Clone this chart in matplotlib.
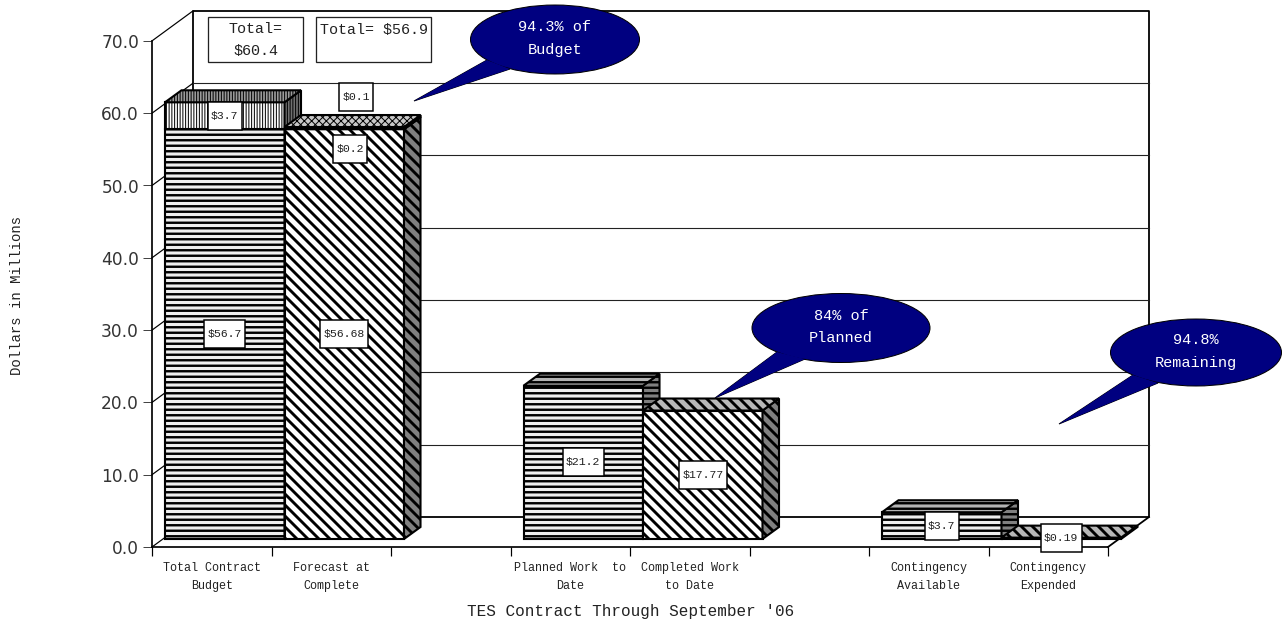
"""
TES contract status: 3-D style stacked columns with callouts
"""
import matplotlib
matplotlib.use("Agg")
import matplotlib.pyplot as plt
from matplotlib.patches import Ellipse, Polygon, Rectangle
from matplotlib.transforms import Affine2D

# column values, $ millions
budget_values = [56.7, 3.7]
forecast_values = [56.68, 0.2, 0.1]
planned_values = [21.2]
completed_values = [17.77]
available_values = [3.7]
expended_values = [0.19]

category_slots = [0.5, 1.5, 3.5, 4.5, 6.5, 7.5]
category_labels = ["Total Contract\nBudget", "Forecast at\nComplete",
                   "Planned Work  to\nDate", "Completed Work\nto Date",
                   "Contingency\nAvailable", "Contingency\nExpended"]
y_ticks = [0, 10, 20, 30, 40, 50, 60, 70]

DPI = 66
WIDTH = 1283
HEIGHT = 620

# size of one category slot and one $ million on screen
SLOT_PX = 119.5
UNIT_PX = 7.23
ORIGIN_X = 152
ORIGIN_Y = 547

# oblique offsets, in data units
WALL_DX = 41 / SLOT_PX
WALL_DY = 30 / UNIT_PX
BAR_X0 = 13 / SLOT_PX
BAR_Y0 = 8 / UNIT_PX
BAR_DX = 16.5 / SLOT_PX
BAR_DY = 12 / UNIT_PX

MONO = "Liberation Mono"
NAVY = "#000080"
TEXT = "#222222"


def size(px):
    return px * 72 / DPI


# styles: hatch, hatch width in px, front / top / side colours
STRIPES = ("--", 2.4, "#efefef", "#b4b4b4", "#808080")
DIAGONAL = ("\\\\", 2.9, "white", "#b8b8b8", "#808080")
COLUMNS = ("||||", 1.0, "white", "#9a9a9a", "#707070")
WOVEN = ("xxx", 1.0, "white", "#c8c8c8", "#808080")


def face(ax, points, color, hatch, hatch_px):
    plt.rcParams["hatch.linewidth"] = size(hatch_px)
    ax.add_patch(Polygon(points, closed=True, facecolor=color, edgecolor="black",
                         hatch=hatch, linewidth=size(2.1), zorder=3))


def draw_segment(ax, slot, bottom, value, style, top_style=None):
    hatch, hatch_px, front, top, side = style
    if top_style is None:
        top_style = style
    x0 = slot + BAR_X0
    x1 = x0 + 1
    y0 = bottom + BAR_Y0
    y1 = y0 + value
    face(ax, [(x0, y0), (x1, y0), (x1, y1), (x0, y1)], front, hatch, hatch_px)
    face(ax, [(x1, y0), (x1 + BAR_DX, y0 + BAR_DY), (x1 + BAR_DX, y1 + BAR_DY), (x1, y1)],
         side, hatch, hatch_px)
    face(ax, [(x0, y1), (x1, y1), (x1 + BAR_DX, y1 + BAR_DY), (x0 + BAR_DX, y1 + BAR_DY)],
         top_style[3], top_style[0], top_style[1])


def value_box(ax, x, y, label, transform=None):
    # white label box, its width follows the text
    if transform is None:
        transform = ax.transData
    if transform is PIXELS:
        sx, sy = x, HEIGHT - y
    else:
        sx, sy = transform.transform((x, y))
    w = 7 * len(label) + 6
    h = 28
    ax.add_patch(Rectangle((sx - w / 2, HEIGHT - sy - h / 2), w, h, facecolor="white",
                           edgecolor="black", linewidth=size(1.5), transform=PIXELS, zorder=6))
    ax.text(sx, HEIGHT - sy, label, transform=PIXELS, ha="center", va="center",
            family=MONO, fontsize=size(11.5), color=TEXT, zorder=7)


def callout(ax, center, w, h, tail, label):
    ax.add_patch(Polygon(tail, closed=True, facecolor=NAVY, edgecolor="black",
                         linewidth=size(1), transform=PIXELS, zorder=8))
    ax.add_patch(Ellipse(center, w, h, facecolor=NAVY, edgecolor="black",
                         linewidth=size(1), transform=PIXELS, zorder=8))
    ax.add_patch(Polygon(tail, closed=True, facecolor=NAVY, edgecolor="none",
                         transform=PIXELS, zorder=8))
    ax.text(center[0], center[1] - 1, label, transform=PIXELS, ha="center", va="center",
            family=MONO, fontsize=size(15.3), color="white", linespacing=1.8, zorder=9)


fig = plt.figure(figsize=((WIDTH + 0.01) / DPI, (HEIGHT + 0.01) / DPI), dpi=DPI)
ax = fig.add_axes([0, 0, 1, 1])
ax.set_xlim(-ORIGIN_X / SLOT_PX, (WIDTH - ORIGIN_X) / SLOT_PX)
ax.set_ylim(-(HEIGHT - ORIGIN_Y) / UNIT_PX, ORIGIN_Y / UNIT_PX)

# screen pixels, measured from the top left corner
PIXELS = Affine2D().scale(1, -1).translate(0, HEIGHT)

# axes
for side in ["top", "right"]:
    ax.spines[side].set_visible(False)
ax.spines["left"].set_position(("data", 0))
ax.spines["left"].set_bounds(0, 70)
ax.spines["bottom"].set_position(("data", 0))
ax.spines["bottom"].set_bounds(0, 8)
ax.spines["left"].set_linewidth(size(1.7))
ax.spines["bottom"].set_linewidth(size(1.7))

ax.set_yticks(y_ticks)
ax.set_yticklabels([f"{v:.1f}" for v in y_ticks], family="DejaVu Sans",
                   fontsize=size(17), color="#333333")
ax.tick_params(axis="y", length=size(9), width=size(1), pad=size(4), color="#444444")
ax.set_xticks(range(9))
ax.set_xticklabels([])
ax.tick_params(axis="x", which="major", length=size(9), width=size(1.2))
ax.set_xticks(category_slots, minor=True)
ax.set_xticklabels(category_labels, minor=True, family=MONO, fontsize=size(11.8),
                   color=TEXT, linespacing=1.62)
ax.tick_params(axis="x", which="minor", length=0, pad=size(15))

# back wall, side wall and floor
back_right = 8 + WALL_DX
ax.plot([WALL_DX, WALL_DX, back_right, back_right, WALL_DX],
        [WALL_DY, 70 + WALL_DY, 70 + WALL_DY, WALL_DY, WALL_DY],
        color="black", lw=size(1.8), zorder=1)
ax.plot([8, back_right], [0, WALL_DY], color="black", lw=size(1.8), zorder=1)
for v in y_ticks:
    ax.plot([0, WALL_DX], [v, v + WALL_DY], color="black", lw=size(1.2), zorder=1)
    if 0 < v < 70:
        ax.plot([WALL_DX, back_right], [v + WALL_DY, v + WALL_DY],
                color="#222222", lw=size(1.1), zorder=1)

# columns
draw_segment(ax, 0, 0, budget_values[0], STRIPES)
draw_segment(ax, 0, budget_values[0], budget_values[1], COLUMNS)
draw_segment(ax, 1, 0, forecast_values[0], DIAGONAL)
draw_segment(ax, 1, forecast_values[0], forecast_values[1], DIAGONAL)
draw_segment(ax, 1, forecast_values[0] + forecast_values[1], forecast_values[2], DIAGONAL, WOVEN)
draw_segment(ax, 3, 0, planned_values[0], STRIPES)
draw_segment(ax, 4, 0, completed_values[0], DIAGONAL)
draw_segment(ax, 6, 0, available_values[0], STRIPES)
draw_segment(ax, 7, 0, expended_values[0], DIAGONAL)

# value boxes, centred on their segments
centre = 0.5 + BAR_X0
value_box(ax, centre, BAR_Y0 + budget_values[0] / 2, f"${budget_values[0]:g}")
value_box(ax, centre, BAR_Y0 + budget_values[0] + budget_values[1] / 2, f"${budget_values[1]:g}")
value_box(ax, 1 + centre, BAR_Y0 + forecast_values[0] / 2, f"${forecast_values[0]:g}")
value_box(ax, 3 + centre, BAR_Y0 + planned_values[0] / 2, f"${planned_values[0]:g}")
value_box(ax, 4 + centre, BAR_Y0 + completed_values[0] / 2, f"${completed_values[0]:g}")
value_box(ax, 6 + centre, BAR_Y0 + available_values[0] / 2, f"${available_values[0]:g}")
value_box(ax, 7 + centre, BAR_Y0 + expended_values[0] / 2, f"${expended_values[0]:g}")
# the two thin forecast segments have their boxes moved clear of the column top
value_box(ax, 350, 149, f"${forecast_values[1]:g}", PIXELS)
value_box(ax, 356, 97, f"${forecast_values[2]:g}", PIXELS)

# total boxes
for x, w in [(208, 95), (316, 115)]:
    ax.add_patch(Rectangle((x, 17), w, 45, facecolor="white", edgecolor="#222222",
                           linewidth=size(1.3), transform=PIXELS, zorder=6))
ax.text(255.5, 40, "Total=\n$60.4", transform=PIXELS, ha="center", va="center",
        family=MONO, fontsize=size(15), color=TEXT, linespacing=1.75, zorder=7)
ax.text(373.5, 30, "Total= $56.9", transform=PIXELS, ha="center", va="center",
        family=MONO, fontsize=size(15), color=TEXT, zorder=7)

# callouts
callout(ax, (555, 39.5), 169, 69, [(414, 101), (487, 60), (510, 69)], "94.3% of\nBudget")
callout(ax, (841, 328), 178, 69, [(715, 398), (777, 352), (805, 359)], "84% of\nPlanned")
callout(ax, (1196, 352.5), 171, 67, [(1059, 424), (1133, 375), (1158, 383)], "94.8%\nRemaining")

# axis titles
ax.text(631, 611, "TES Contract Through September '06", transform=PIXELS, ha="center",
        va="center", family=MONO, fontsize=size(16), color=TEXT)
ax.text(17, 295, "Dollars in Millions", transform=PIXELS, ha="center", va="center",
        rotation=90, family=MONO, fontsize=size(14), color=TEXT)

fig.savefig("out.png", dpi=DPI)
